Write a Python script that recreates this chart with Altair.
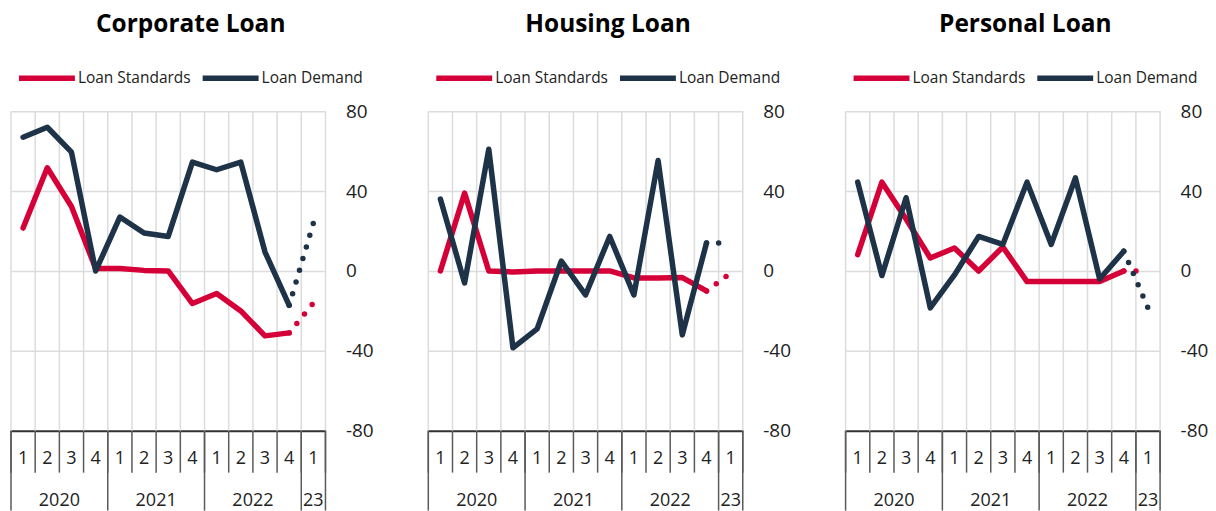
import altair as alt
import pandas as pd

# ---------------- data ----------------
quarter_labels = ["1", "2", "3", "4", "1", "2", "3", "4", "1", "2", "3", "4", "1"]
year_labels = ["2020", "2021", "2022", "23"]
year_first_quarter = [0, 4, 8, 12]
year_last_quarter = [3, 7, 11, 12]

series_names = ["Loan Standards", "Loan Demand"]
panel_titles = ["Corporate Loan", "Housing Loan", "Personal Loan"]

# actual values 2020Q1 .. 2022Q4
corp_standards = [21.5, 51.7, 32.3, 1.2, 1.2, 0.3, 0, -16.3, -11.3, -20, -32.5, -31]
corp_demand = [67, 72, 59.5, 0, 27, 19, 17.3, 54.5, 50.7, 54.5, 9.5, -17.2]
housing_standards = [0, 39, 0, -0.5, 0, 0, 0, 0, -3.5, -3.5, -3.3, -10]
housing_demand = [36, -6, 61, -38.5, -29, 5, -12, 17.3, -12, 55.3, -32, 14]
personal_standards = [8.2, 44.5, 26, 6.5, 11.5, 0, 12, -5.3, -5.3, -5.3, -5.3, 0]
personal_demand = [44.5, -2.3, 36.7, -18.5, -2, 17.3, 13.3, 44.5, 13.3, 46.6, -4, 9.9]

# expectations for 2023Q1
corp_forecast = [-16, 24]
housing_forecast = [-1, 14]
personal_forecast = [0, -18.5]

y_ticks = [-80, -40, 0, 40, 80]

# ---------------- style ----------------
W, H = 315, 320
RED, NAVY = "#d50037", "#1e3348"
FONT = "Open Sans"
GRID = "#dcdcdc"
SEP = "#5a5a5a"

nq = len(quarter_labels)
band_edges = [k - 0.5 for k in range(nq + 1)]
year_edges = [f - 0.5 for f in year_first_quarter] + [nq - 0.5]
year_centers = [(a + b) / 2 for a, b in zip(year_first_quarter, year_last_quarter)]

color_scale = alt.Scale(domain=series_names, range=[RED, NAVY])
x_scale = alt.Scale(domain=[-0.5, nq - 0.5], nice=False, zero=False)
x_axis = alt.Axis(labels=False, ticks=False, grid=False, domain=True,
                  domainColor="#333333", domainWidth=2, title=None)
y_axis = alt.Axis(orient="right", values=y_ticks, grid=True, gridColor=GRID,
                  gridWidth=1.5, domain=False, ticks=False, labelPadding=20,
                  labelAlign="left", labelFont=FONT, labelFontSize=19,
                  labelExpr="'' + datum.value",
                  labelColor="#222222", title=None)
y_scale = alt.Scale(domain=[-80, 80], nice=False, zero=False)

legend = alt.Legend(orient="none", legendX=5, legendY=-64,
                    direction="horizontal", title=None,
                    symbolType="stroke", symbolSize=3136,
                    symbolStrokeWidth=5.5, labelFont=FONT,
                    labelFontSize=15.5, labelColor="#222222",
                    labelOffset=0, columnPadding=0)


def X(field="i"):
    return alt.X(f"{field}:Q", scale=x_scale, axis=x_axis)


def panel(title, std, dem, fc):
    n = len(std)
    actual = pd.DataFrame({
        "i": list(range(n)) * 2,
        "v": std + dem,
        "s": [series_names[0]] * n + [series_names[1]] * n,
        "o": [0] * n + [1] * n,
    })
    fcast = pd.DataFrame({
        "i": [n - 1, n, n - 1, n],
        "v": [std[-1], fc[0], dem[-1], fc[1]],
        "s": [series_names[0]] * 2 + [series_names[1]] * 2,
    })
    edges = pd.DataFrame({"e": band_edges})
    yedges = pd.DataFrame({"e": year_edges})
    qlab = pd.DataFrame({"i": list(range(nq)), "t": quarter_labels})
    ylab = pd.DataFrame({"i": year_centers, "t": year_labels})

    vgrid = alt.Chart(edges).mark_rule(color=GRID, strokeWidth=1.5).encode(
        x=X("e"), y=alt.value(0), y2=alt.value(H))
    yaxis_layer = alt.Chart(pd.DataFrame({"v": y_ticks})).mark_point(opacity=0).encode(
        x=alt.value(0), y=alt.Y("v:Q", scale=y_scale, axis=y_axis))
    qsep = alt.Chart(edges).mark_rule(color=SEP, strokeWidth=1.5).encode(
        x=X("e"), y=alt.value(H), y2=alt.value(H + 42))
    ysep = alt.Chart(yedges).mark_rule(color=SEP, strokeWidth=1.5).encode(
        x=X("e"), y=alt.value(H), y2=alt.value(H + 80))
    qtext = alt.Chart(qlab).mark_text(font=FONT, fontSize=18, color="#222222",
                                      baseline="middle").encode(
        x=X(), y=alt.value(H + 28), text="t:N")
    ytext = alt.Chart(ylab).mark_text(font=FONT, fontSize=18, color="#222222",
                                      baseline="middle").encode(
        x=X(), y=alt.value(H + 70), text="t:N")
    lines = alt.Chart(actual).mark_line(strokeWidth=5.5, strokeCap="round",
                                        strokeJoin="round").encode(
        x=X(), y=alt.Y("v:Q", scale=y_scale, axis=y_axis),
        color=alt.Color("s:N", scale=color_scale, legend=legend),
        order="o:Q")
    dots = alt.Chart(fcast).mark_line(strokeWidth=5.5, strokeCap="round",
                                      strokeDash=[0, 12.2]).encode(
        x=X(), y=alt.Y("v:Q", scale=y_scale, axis=y_axis),
        color=alt.Color("s:N", scale=color_scale, legend=legend))
    return alt.layer(vgrid, yaxis_layer, qsep, ysep, qtext, ytext, lines, dots).properties(
        width=W, height=H,
        title=alt.TitleParams(title, offset=10, frame="bounds", anchor="middle"))


chart = alt.hconcat(
    panel(panel_titles[0], corp_standards, corp_demand, corp_forecast),
    panel(panel_titles[1], housing_standards, housing_demand, housing_forecast),
    panel(panel_titles[2], personal_standards, personal_demand, personal_forecast),
    spacing=52,
).resolve_scale(color="independent").configure_view(
    stroke=None
).configure_title(
    font=FONT, fontSize=24.5, fontWeight="bold", color="black", anchor="middle"
).properties(padding={"left": 0, "top": 3, "right": 0, "bottom": 0})

chart.save("out.html", embed_options={"renderer": "svg", "actions": False})
